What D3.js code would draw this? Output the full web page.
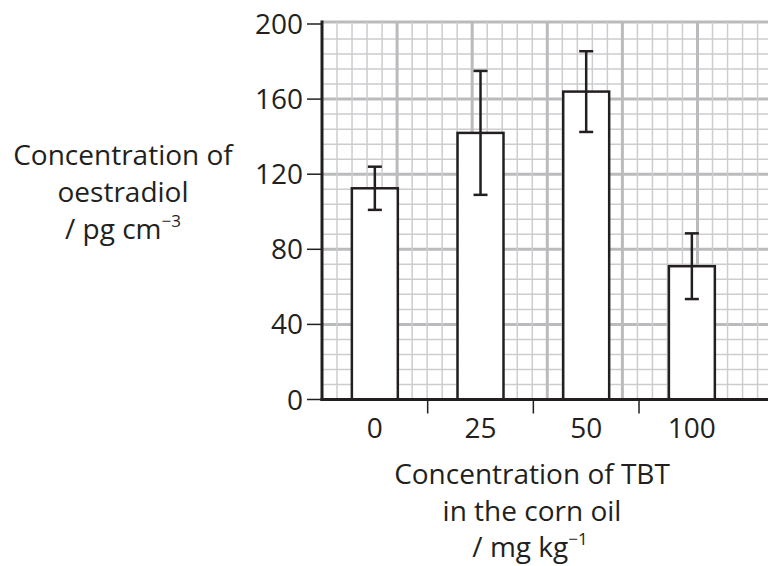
<!DOCTYPE html>
<html lang="en">
<head>
<meta charset="utf-8">
<script src="https://d3js.org/d3.v7.min.js"></script>
<style>
  body { margin: 0; background: #fff; }
  text { font-family: "Open Sans", sans-serif; fill: #231f20; }
</style>
</head>
<body>
<div id="chart"></div>
<script>
// data
var categories = ["0", "25", "50", "100"];
var means = [112.5, 142, 164, 71];
var errors = [11.5, 33, 21.5, 17.5];
var yTicks = [0, 40, 80, 120, 160, 200];

var width = 768, height = 566;
var ink = "#231f20";
var fs = 28;

// plot area
var pLeft = 322, pRight = 768, pTop = 24, pBottom = 399.5;
var xEnd = 744.7;

var svg = d3.select("#chart").append("svg")
    .attr("width", width)
    .attr("height", height);

var y = d3.scaleLinear()
    .domain([0, 200])
    .range([pBottom, pTop]);

var x = d3.scaleBand()
    .domain(categories)
    .range([pLeft, xEnd])
    .paddingInner(0.565)
    .paddingOuter(0.2825);

// graph paper grid, 8 units per small square
var minor = y(0) - y(8);
var nCols = Math.ceil((pRight - pLeft) / minor);
var gx = d3.scaleLinear().domain([0, nCols]).range([pLeft, pLeft + nCols * minor]);

var grid = svg.append("g");
grid.selectAll("line.h")
    .data(d3.range(0, 201, 8))
    .enter().append("line")
    .attr("x1", pLeft).attr("x2", pRight)
    .attr("y1", d => y(d) - (d === 200 ? 2 : 0)).attr("y2", d => y(d) - (d === 200 ? 2 : 0))
    .attr("stroke", d => d % 40 === 0 ? "#bbbbbe" : "#cdcdd0")
    .attr("stroke-width", d => d % 40 === 0 ? 3 : 1.5);

grid.selectAll("line.v")
    .data(d3.range(1, nCols + 1))
    .enter().append("line")
    .attr("x1", d => gx(d)).attr("x2", d => gx(d))
    .attr("y1", y(200) - 2).attr("y2", pBottom)
    .attr("stroke", d => d % 5 === 0 ? "#bbbbbe" : "#cdcdd0")
    .attr("stroke-width", d => d % 5 === 0 ? 3 : 1.5);

// bars
svg.append("g").selectAll("rect")
    .data(categories)
    .enter().append("rect")
    .attr("x", d => x(d))
    .attr("y", (d, i) => y(means[i]))
    .attr("width", x.bandwidth())
    .attr("height", (d, i) => y(0) - y(means[i]))
    .attr("fill", "#fff")
    .attr("stroke", ink)
    .attr("stroke-width", 2.5);

// error bars
var cap = 7;
var eb = svg.append("g").attr("stroke", ink).attr("stroke-width", 2.5);
categories.forEach(function(c, i) {
    var cx = x(c) + x.bandwidth() / 2;
    var hi = y(means[i] + errors[i]), lo = y(means[i] - errors[i]);
    eb.append("line").attr("x1", cx).attr("x2", cx).attr("y1", hi).attr("y2", lo);
    eb.append("line").attr("x1", cx - cap).attr("x2", cx + cap).attr("y1", hi).attr("y2", hi);
    eb.append("line").attr("x1", cx - cap).attr("x2", cx + cap).attr("y1", lo).attr("y2", lo);
});

// y axis
var yAxis = svg.append("g");
yAxis.append("line")
    .attr("x1", pLeft).attr("x2", pLeft)
    .attr("y1", y(200) - 3.5).attr("y2", pBottom + 1.5)
    .attr("stroke", ink).attr("stroke-width", 3);
var yt = yAxis.selectAll("g.tick")
    .data(yTicks)
    .enter().append("g")
    .attr("transform", d => `translate(0,${y(d)})`);
yt.append("line")
    .attr("x1", pLeft - 15).attr("x2", pLeft)
    .attr("stroke", ink).attr("stroke-width", 1.5);
yt.append("text")
    .attr("x", pLeft - 19)
    .attr("dy", "0.36em")
    .attr("text-anchor", "end")
    .attr("font-size", fs)
    .text(d => d);

// x axis
var xAxis = svg.append("g");
xAxis.append("line")
    .attr("x1", pLeft - 1.5).attr("x2", pRight)
    .attr("y1", pBottom).attr("y2", pBottom)
    .attr("stroke", ink).attr("stroke-width", 3);
xAxis.selectAll("line.tick")
    .data(categories.slice(1))
    .enter().append("line")
    .attr("x1", d => x(d) - x.step() * x.paddingInner() / 2)
    .attr("x2", d => x(d) - x.step() * x.paddingInner() / 2)
    .attr("y1", pBottom).attr("y2", pBottom + 14)
    .attr("stroke", ink).attr("stroke-width", 1.5);
xAxis.selectAll("text")
    .data(categories)
    .enter().append("text")
    .attr("x", d => x(d) + x.bandwidth() / 2)
    .attr("y", 438)
    .attr("text-anchor", "middle")
    .attr("font-size", fs)
    .text(d => d);

// axis titles
var yTitle = svg.append("text")
    .attr("text-anchor", "middle")
    .attr("font-size", fs);
yTitle.append("tspan").attr("x", 123).attr("y", 165).text("Concentration of");
yTitle.append("tspan").attr("x", 123).attr("y", 202).text("oestradiol");
var l3 = yTitle.append("tspan").attr("x", 123).attr("y", 239);
l3.append("tspan").text("/ pg cm");
l3.append("tspan").attr("dy", -12).attr("font-size", 17).text("\u22123");

var xTitle = svg.append("text")
    .attr("text-anchor", "middle")
    .attr("font-size", fs);
xTitle.append("tspan").attr("x", 532).attr("y", 484).text("Concentration of TBT");
xTitle.append("tspan").attr("x", 532).attr("y", 521).text("in the corn oil");
var l6 = xTitle.append("tspan").attr("x", 530).attr("y", 557);
l6.append("tspan").text("/ mg kg");
l6.append("tspan").attr("dy", -12).attr("font-size", 17).text("\u22121");
</script>
</body>
</html>
